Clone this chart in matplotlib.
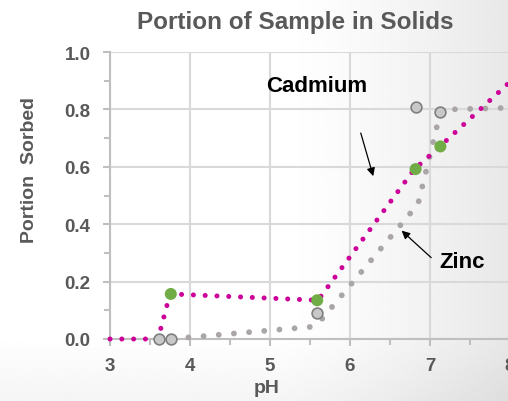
import numpy as np
import matplotlib
matplotlib.use("Agg")
import matplotlib.pyplot as plt
from matplotlib.ticker import MultipleLocator

plt.rcParams['font.family'] = ['Liberation Sans', 'DejaVu Sans']

# 1. data
cd_ph = [3.0, 3.6, 3.75, 5.6, 6.8, 7.12, 8.6]
cd_val = [0.0, 0.0, 0.157, 0.135, 0.59, 0.67, 1.05]
cd_mark_ph = [3.76, 5.59, 6.82, 7.13]
cd_mark_val = [0.157, 0.135, 0.592, 0.671]

zn_ph = [3.6, 3.75, 5.5, 5.62, 6.85, 7.13, 7.25, 8.6]
zn_val = [0.0, 0.0, 0.042, 0.06, 0.47, 0.79, 0.80, 0.81]
zn_mark_ph = [3.61, 3.76, 5.59, 6.82, 7.13]
zn_mark_val = [0.0, 0.0, 0.09, 0.81, 0.79]

x_ticks = [3, 4, 5, 6, 7, 8]
y_ticks = [0.0, 0.2, 0.4, 0.6, 0.8, 1.0]

TXT = '#595959'
GRID = '#d9d9d9'

fig = plt.figure(figsize=(5.08, 4.02), dpi=100)

# background gradient
bg = fig.add_axes([0, 0, 1, 1], zorder=0)
xx, yy = np.meshgrid(np.linspace(0, 1, 300), np.linspace(0, 1, 240))
shade = 1 - 0.09 * np.clip((xx - 0.55) / 0.45, 0, 1) ** 1.3 - 0.04 * np.clip((yy - 0.84) / 0.16, 0, 1)
bg.imshow(shade, cmap='gray', vmin=0, vmax=1, aspect='auto', extent=[0, 1, 0, 1], origin='upper')
bg.axis('off')

ax = fig.add_axes([110 / 508, 62 / 402, 440 / 508, 287 / 402], zorder=1)
ax.patch.set_alpha(0)

# lines (dotted)
ax.plot(zn_ph, zn_val, color='#aaa6a6', lw=4.2, linestyle=(0, (0.01, 2.6)),
        dash_capstyle='round', zorder=3, clip_on=False)
ax.plot(cd_ph, cd_val, color='#cc0099', lw=3.6, linestyle=(0, (0.01, 2.35)),
        dash_capstyle='round', zorder=4, clip_on=False)

# markers
ax.scatter(zn_mark_ph, zn_mark_val, s=60, color='#c8c8c8', edgecolor='#7f7f7f',
           linewidth=1.2, zorder=5, clip_on=False)
ax.scatter(cd_mark_ph, cd_mark_val, s=75, color='#70ad47', edgecolor='none', zorder=6, clip_on=False)

ax.set_xlim(3, 8.5)
ax.set_ylim(0, 1.0)
ax.set_xticks(x_ticks)
ax.set_yticks(y_ticks)
ax.xaxis.set_minor_locator(MultipleLocator(0.5))
ax.yaxis.set_minor_locator(MultipleLocator(0.1))
ax.set_yticklabels([f'{v:.1f}' for v in y_ticks])
ax.grid(True, which='major', color=GRID, lw=1.5, zorder=1)
ax.set_axisbelow(True)
for s in ['top', 'right']:
    ax.spines[s].set_visible(False)
for s in ['left', 'bottom']:
    ax.spines[s].set_color('#bfbfbf')
    ax.spines[s].set_linewidth(1.5)
ax.tick_params(which='major', length=5, width=1.5, color='#bfbfbf', labelcolor=TXT,
               labelsize=13.5)
ax.tick_params(axis='x', which='major', pad=8)
ax.tick_params(axis='y', which='major', pad=9)
ax.tick_params(which='minor', length=4, width=1.5, color='#bfbfbf')
for lab in ax.get_xticklabels() + ax.get_yticklabels():
    lab.set_fontweight('bold')

fig.text(267 / 508, 1 - 389 / 402, 'pH', fontsize=14, fontweight='bold', color=TXT,
         ha='center', va='center')
fig.text(30 / 508, 1 - 170 / 402, 'Portion  Sorbed', rotation=90, fontsize=14,
         fontweight='bold', color=TXT, ha='center', va='center')
fig.text(295 / 508, 1 - 22 / 402, 'Portion of Sample in Solids', fontsize=17.5,
         fontweight='bold', color=TXT, ha='center', va='center')

# annotations
ax.annotate('', xy=(6.3, 0.558), xytext=(6.125, 0.727),
            arrowprops=dict(arrowstyle='-|>', color='black', lw=0.9, mutation_scale=12))
ax.text(5.58, 0.885, 'Cadmium', fontsize=16, fontweight='bold', ha='center', va='center')
ax.annotate('', xy=(6.62, 0.384), xytext=(7.04, 0.277),
            arrowprops=dict(arrowstyle='-|>', color='black', lw=0.9, mutation_scale=12))
ax.text(7.12, 0.27, 'Zinc', fontsize=16, fontweight='bold', ha='left', va='center')

fig.savefig('out.png', dpi=100)
